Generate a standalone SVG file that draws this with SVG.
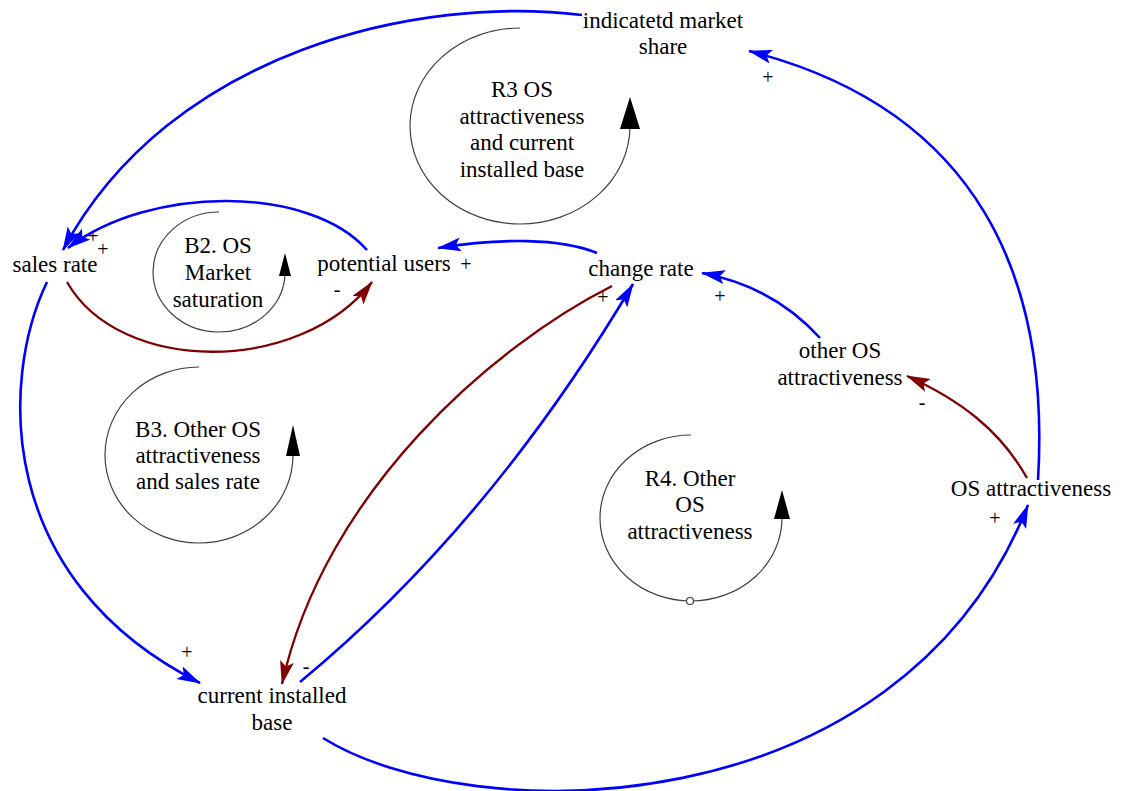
<svg xmlns="http://www.w3.org/2000/svg" width="1124" height="791" viewBox="0 0 1124 791">
  <defs>
    <style>
      .lbl { font-family: "Liberation Serif", "Times New Roman", serif; font-size: 23px; fill: #000; text-anchor: middle; }
      .sign { font-family: "Liberation Serif", "Times New Roman", serif; font-size: 20px; fill: #000; text-anchor: middle; }
      .pos { stroke: #0000ff; stroke-width: 2.6; fill: none; }
      .neg { stroke: #800000; stroke-width: 2.3; fill: none; }
      .loop { stroke: #404040; stroke-width: 1.2; fill: none; }
    </style>
    <marker id="ah-pos" viewBox="0 0 24 14" refX="23" refY="7" markerWidth="24" markerHeight="14" markerUnits="userSpaceOnUse" orient="auto">
      <path d="M0,0 L24,7 L0,14 L5,7 z" fill="#0000ff"/>
    </marker>
    <marker id="ah-neg" viewBox="0 0 24 14" refX="23" refY="7" markerWidth="24" markerHeight="14" markerUnits="userSpaceOnUse" orient="auto">
      <path d="M0,0 L24,7 L0,14 L5,7 z" fill="#800000"/>
    </marker>
  </defs>

  <rect width="1124" height="791" fill="#ffffff"/>

  <!-- loop identifiers -->
  <g id="loop-R3">
    <path class="loop" d="M 520 28 A 110 98 0 1 0 630 127"/>
    <path d="M 630 97 L 640 129 L 620 129 z" fill="#000"/>
    <text class="lbl" x="522" y="97">R3 OS</text>
    <text class="lbl" x="522" y="124">attractiveness</text>
    <text class="lbl" x="522" y="150">and current</text>
    <text class="lbl" x="522" y="177">installed base</text>
  </g>
  <g id="loop-B2">
    <path class="loop" d="M 219 212 A 66 60 0 1 0 285 274"/>
    <path d="M 285 253 L 291 276 L 279 276 z" fill="#000"/>
    <text class="lbl" x="218" y="253">B2. OS</text>
    <text class="lbl" x="218" y="280">Market</text>
    <text class="lbl" x="218" y="307">saturation</text>
  </g>
  <g id="loop-B3">
    <path class="loop" d="M 199 367 A 94 88 0 1 0 293 456"/>
    <path d="M 293 425 L 300 456 L 286 456 z" fill="#000"/>
    <text class="lbl" x="198" y="437">B3. Other OS</text>
    <text class="lbl" x="198" y="463">attractiveness</text>
    <text class="lbl" x="198" y="489">and sales rate</text>
  </g>
  <g id="loop-R4">
    <path class="loop" d="M 691 435 A 91 83 0 1 0 782 518"/>
    <path d="M 782 490 L 790 519 L 774 519 z" fill="#000"/>
    <circle cx="690" cy="601" r="3.5" fill="#fff" stroke="#404040" stroke-width="1.2"/>
    <text class="lbl" x="690" y="486">R4. Other</text>
    <text class="lbl" x="690" y="512">OS</text>
    <text class="lbl" x="690" y="539">attractiveness</text>
  </g>

  <!-- variables -->
  <g id="node-indicated-market-share">
    <text class="lbl" x="663" y="28">indicatetd market</text>
    <text class="lbl" x="663" y="54">share</text>
  </g>
  <g id="node-sales-rate">
    <text class="lbl" x="55" y="272">sales rate</text>
  </g>
  <g id="node-potential-users">
    <text class="lbl" x="384" y="271">potential users</text>
  </g>
  <g id="node-change-rate">
    <text class="lbl" x="641" y="276">change rate</text>
  </g>
  <g id="node-other-os-attractiveness">
    <text class="lbl" x="840" y="358">other OS</text>
    <text class="lbl" x="840" y="385">attractiveness</text>
  </g>
  <g id="node-os-attractiveness">
    <text class="lbl" x="1031" y="496">OS attractiveness</text>
  </g>
  <g id="node-current-installed-base">
    <text class="lbl" x="272" y="703">current installed</text>
    <text class="lbl" x="272" y="730">base</text>
  </g>

  <!-- link polarities -->
  <g id="polarities">
    <text class="sign" x="93" y="243">+</text>
    <text class="sign" x="103" y="256">+</text>
    <text class="sign" x="337" y="296">-</text>
    <text class="sign" x="466" y="271">+</text>
    <text class="sign" x="603" y="304">+</text>
    <text class="sign" x="720" y="303">+</text>
    <text class="sign" x="768" y="84">+</text>
    <text class="sign" x="922" y="409">-</text>
    <text class="sign" x="995" y="525">+</text>
    <text class="sign" x="187" y="659">+</text>
    <text class="sign" x="306" y="673">-</text>
  </g>

  <!-- causal links -->
  <g id="connectors">
    <path class="pos" marker-end="url(#ah-pos)" d="M 582 15 C 420 -5, 170 50, 63 250"/>
    <path class="pos" marker-end="url(#ah-pos)" d="M 367 250 C 310 185, 150 185, 68 248"/>
    <path class="neg" marker-end="url(#ah-neg)" d="M 67 282 C 120 375, 300 375, 372 282"/>
    <path class="pos" marker-end="url(#ah-pos)" d="M 597 253 C 560 238, 500 238, 438 248"/>
    <path class="neg" marker-end="url(#ah-neg)" d="M 612 286 C 495 345, 325 490, 282 684"/>
    <path class="pos" marker-end="url(#ah-pos)" d="M 300 682 Q 490 525 633 284"/>
    <path class="pos" marker-end="url(#ah-pos)" d="M 47 282 C 0 380, -5 580, 200 683"/>
    <path class="pos" marker-end="url(#ah-pos)" d="M 323 738 C 470 830, 900 830, 1028 505"/>
    <path class="pos" marker-end="url(#ah-pos)" d="M 1038 480 C 1050 280, 980 110, 749 51"/>
    <path class="neg" marker-end="url(#ah-neg)" d="M 1027 478 C 1000 430, 960 400, 907 376"/>
    <path class="pos" marker-end="url(#ah-pos)" d="M 820 338 C 790 305, 750 282, 702 273"/>
  </g>
</svg>
